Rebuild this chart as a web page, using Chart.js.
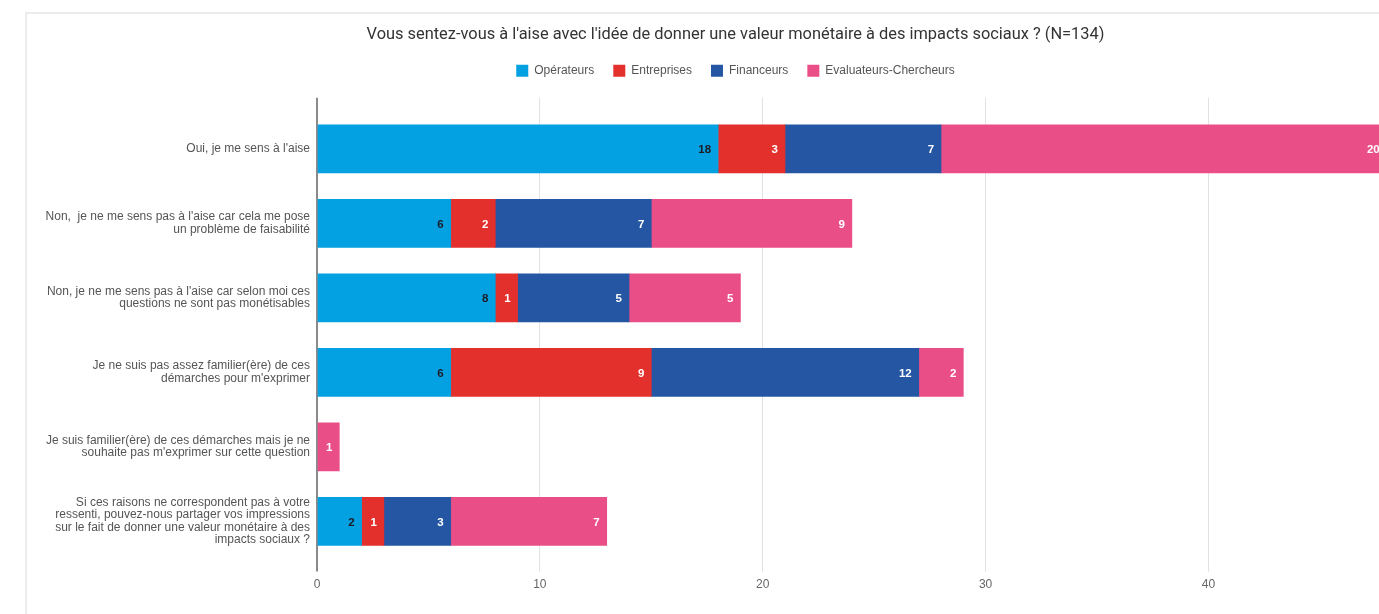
<!DOCTYPE html>
<html>
<head>
<meta charset="utf-8">
<script src="https://cdn.jsdelivr.net/npm/chart.js@4.4.1/dist/chart.umd.min.js"></script>
<style>
  html, body { margin: 0; padding: 0; background: #fff; overflow: hidden; }
  #card {
    position: absolute;
    left: 25px;
    top: 12px;
    width: 1417px;
    height: 620px;
    border: 2px solid #ececec;
  }
  #wrap { position: relative; width: 1417px; height: 600px; }
</style>
</head>
<body>
<div id="card">
  <div id="wrap"><canvas id="myChart"></canvas></div>
</div>
<script>
const categories = [
  ["Oui, je me sens à l'aise"],
  ["Non,  je ne me sens pas à l'aise car cela me pose", "un problème de faisabilité"],
  ["Non, je ne me sens pas à l'aise car selon moi ces", "questions ne sont pas monétisables"],
  ["Je ne suis pas assez familier(ère) de ces", "démarches pour m'exprimer"],
  ["Je suis familier(ère) de ces démarches mais je ne", "souhaite pas m'exprimer sur cette question"],
  ["Si ces raisons ne correspondent pas à votre", "ressenti, pouvez-nous partager vos impressions", "sur le fait de donner une valeur monétaire à des", "impacts sociaux ?"]
];
const seriesNames = ["Opérateurs", "Entreprises", "Financeurs", "Evaluateurs-Chercheurs"];
const operateurs = [18, 6, 8, 6, null, 2];
const entreprises = [3, 2, 1, 9, null, 1];
const financeurs = [7, 7, 5, 12, null, 3];
const evaluateurs = [20, 9, 5, 2, 1, 7];
const xTicks = [0, 10, 20, 30, 40, 50];

const colors = ["#03a0e2", "#e3302c", "#2456a4", "#e94e86"];
const labelColors = ["#1c1c24", "#ffffff", "#ffffff", "#ffffff"];

const values = [operateurs, entreprises, financeurs, evaluateurs];

// draws the value inside the end of each segment
const valueLabels = {
  id: "valueLabels",
  afterDatasetsDraw(chart) {
    const ctx = chart.ctx;
    ctx.save();
    ctx.font = "bold 11.5px 'Liberation Sans', Arial, sans-serif";
    ctx.textAlign = "right";
    ctx.textBaseline = "middle";
    chart.data.datasets.forEach((ds, i) => {
      const meta = chart.getDatasetMeta(i);
      meta.data.forEach((bar, j) => {
        const v = ds.data[j];
        if (!v) return;
        ctx.fillStyle = labelColors[i];
        ctx.fillText(String(v), bar.x - 7, bar.y + 1);
      });
    });
    ctx.restore();
  },
};

const gridColor = (c) => (c.tick && c.tick.value === 0 ? "#8a8a8a" : "#e2e2e2");
const gridWidth = (c) => (c.tick && c.tick.value === 0 ? 2 : 1);

const ctx = document.getElementById("myChart").getContext("2d");

const myChart = new Chart(ctx, {
  type: "bar",
  data: {
    labels: categories,
    datasets: seriesNames.map((name, i) => ({
      label: name,
      data: values[i],
      backgroundColor: colors[i],
      borderWidth: 0,
      barThickness: 48,
    })),
  },
  options: {
    indexAxis: "y",
    responsive: true,
    maintainAspectRatio: false,
    animation: false,
    layout: { padding: { left: 0, right: 0, top: 4, bottom: 16 } },
    plugins: {
      title: {
        display: true,
        text: "Vous sentez-vous à l'aise avec l'idée de donner une valeur monétaire à des impacts sociaux ? (N=134)",
        color: "#333",
        font: { family: "Roboto, 'Liberation Sans', sans-serif", size: 16.4, weight: "normal" },
        padding: { top: 7, bottom: 1 },
      },
      legend: {
        position: "top",
        labels: {
          boxWidth: 12,
          boxHeight: 12,
          padding: 19,
          color: "#555",
          font: { family: "'Liberation Sans', Arial, sans-serif", size: 12 },
        },
      },
      tooltip: { enabled: false },
    },
    scales: {
      x: {
        stacked: true,
        min: 0,
        max: 50,
        afterBuildTicks: (scale) => {
          scale.ticks = xTicks.map((v) => ({ value: v }));
        },
        grid: { color: gridColor, lineWidth: gridWidth, tickLength: 13 },
        border: { display: false },
        ticks: {
          padding: 6,
          color: "#666",
          font: { family: "'Liberation Sans', Arial, sans-serif", size: 12 },
        },
      },
      x2: {
        position: "top",
        min: 0,
        max: 50,
        afterBuildTicks: (scale) => {
          scale.ticks = xTicks.map((v) => ({ value: v }));
        },
        afterFit: (scale) => {
          scale.height = 25;
        },
        grid: { drawOnChartArea: false, color: gridColor, lineWidth: gridWidth, tickLength: 14 },
        border: { display: false },
        ticks: { display: false },
      },
      y: {
        stacked: true,
        grid: { display: false, drawTicks: false },
        border: { display: false },
        afterFit: (scale) => {
          scale.width = 290;
        },
        ticks: {
          padding: 7,
          color: "#555",
          font: { family: "'Liberation Sans', Arial, sans-serif", size: 12, lineHeight: 1.04 },
        },
      },
    },
  },
  plugins: [valueLabels],
});
</script>
</body>
</html>
